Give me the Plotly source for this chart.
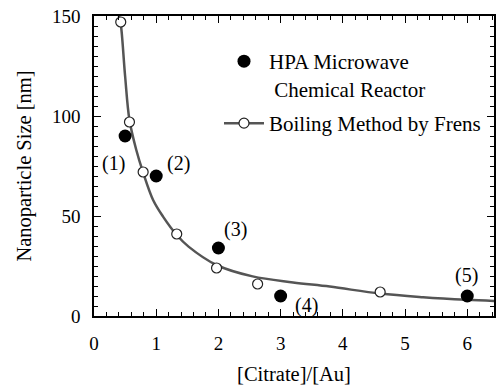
import plotly.graph_objects as go

# HPA Microwave Chemical Reactor (filled circles)
hpa_x = [0.50, 1.00, 2.00, 3.00, 6.00]
hpa_y = [90, 70, 34, 10, 10]
hpa_labels = ["(1)", "(2)", "(3)", "(4)", "(5)"]
label_x = [0.31, 1.36, 2.27, 3.41, 5.98]
label_y = [76.5, 76.5, 43.5, 5.5, 20.5]

# Boiling Method by Frens (open circles)
frens_x = [0.43, 0.57, 0.79, 1.33, 1.97, 2.63, 4.60]
frens_y = [147, 97, 72, 41, 24, 16, 12]

# Fitted curve
curve_x = [0.40, 0.43, 0.50, 0.57, 0.68, 0.79, 0.95, 1.11, 1.33, 1.52, 1.97, 2.55, 3.20, 3.79, 4.60, 5.29, 5.99, 6.45]
curve_y = [150, 146, 120, 98, 83, 71.7, 58, 49.7, 40.5, 34.7, 25.5, 19.8, 16.8, 14.7, 11.2, 9.4, 8.1, 7.5]

x_range = [0, 6.43]
y_range = [0, 150]

FONT = '"Liberation Serif", "Times New Roman", Times, serif'

fig = go.Figure()

fig.add_trace(go.Scatter(
    x=curve_x, y=curve_y, mode="lines", showlegend=False,
    line=dict(color="#555555", width=2.5, shape="spline", smoothing=1.0),
    hoverinfo="skip",
))
fig.add_trace(go.Scatter(
    x=hpa_x, y=hpa_y, mode="markers",
    name="HPA Microwave<br> Chemical Reactor", legend="legend",
    marker=dict(symbol="circle", size=13, color="black"),
))
fig.add_trace(go.Scatter(
    x=frens_x, y=frens_y, mode="markers", showlegend=False,
    marker=dict(symbol="circle", size=10, color="white",
                line=dict(color="#222222", width=1.2)),
))
fig.add_trace(go.Scatter(
    x=[None], y=[None], mode="lines+markers",
    name="Boiling Method by Frens", legend="legend2",
    line=dict(color="#555555", width=2.5),
    marker=dict(symbol="circle", size=10, color="white",
                line=dict(color="#222222", width=1.2)),
))

for lx, ly, t in zip(label_x, label_y, hpa_labels):
    fig.add_annotation(x=lx, y=ly, text=t, showarrow=False,
                       font=dict(family=FONT, size=20, color="black"))

axis_common = dict(
    showline=True, linecolor="black", linewidth=1.5,
    ticks="inside", ticklen=7, tickwidth=1.2, tickcolor="black",
    showgrid=False, zeroline=False,
    tickfont=dict(family=FONT, size=19, color="black"),
)
xminor = dict(tickmode="linear", dtick=0.2, tick0=0, ticklen=4, tickwidth=1.2, tickcolor="black", ticks="inside")
yminor = dict(tickmode="linear", dtick=5, tick0=0, ticklen=4, tickwidth=1.2, tickcolor="black", ticks="inside")

fig.update_layout(
    xaxis=dict(
        range=x_range, tickmode="linear", tick0=0, dtick=1, minor=xminor,
        title=dict(text="[Citrate]/[Au]", font=dict(family=FONT, size=20.5, color="black"), standoff=14),
        ticklabelstandoff=9,
        **axis_common,
    ),
    yaxis=dict(
        range=y_range, tickmode="linear", tick0=0, dtick=50, minor=yminor,
        title=dict(text="Nanoparticle Size [nm]", font=dict(family=FONT, size=20.5, color="black"), standoff=15),
        ticklabelstandoff=8,
        **axis_common,
    ),
    xaxis2=dict(
        overlaying="x", side="top", matches="x", range=x_range,
        tickmode="linear", tick0=0, dtick=1, showticklabels=False, minor=xminor,
        **axis_common,
    ),
    yaxis2=dict(
        overlaying="y", side="right", matches="y", range=y_range,
        tickmode="linear", tick0=0, dtick=50, showticklabels=False, minor=yminor,
        **axis_common,
    ),
)

# invisible trace to activate the mirrored axes
fig.add_trace(go.Scatter(x=[None], y=[None], xaxis="x2", yaxis="y2",
                         showlegend=False, hoverinfo="skip"))

fig.update_layout(
    width=496, height=388,
    margin=dict(l=94, r=2, t=16, b=72),
    plot_bgcolor="white", paper_bgcolor="white",
    showlegend=True,
    legend=dict(x=(219 - 94) / 400, y=(316 - 41) / 300, xanchor="left", yanchor="top",
                font=dict(family=FONT, size=21, color="black"),
                bgcolor="rgba(0,0,0,0)", valign="top", itemwidth=40),
    legend2=dict(x=(219 - 94) / 400, y=(316 - 103) / 300, xanchor="left", yanchor="top",
                 font=dict(family=FONT, size=21, color="black"),
                 bgcolor="rgba(0,0,0,0)", valign="top", itemwidth=40),
)

fig.write_html("out.html")
